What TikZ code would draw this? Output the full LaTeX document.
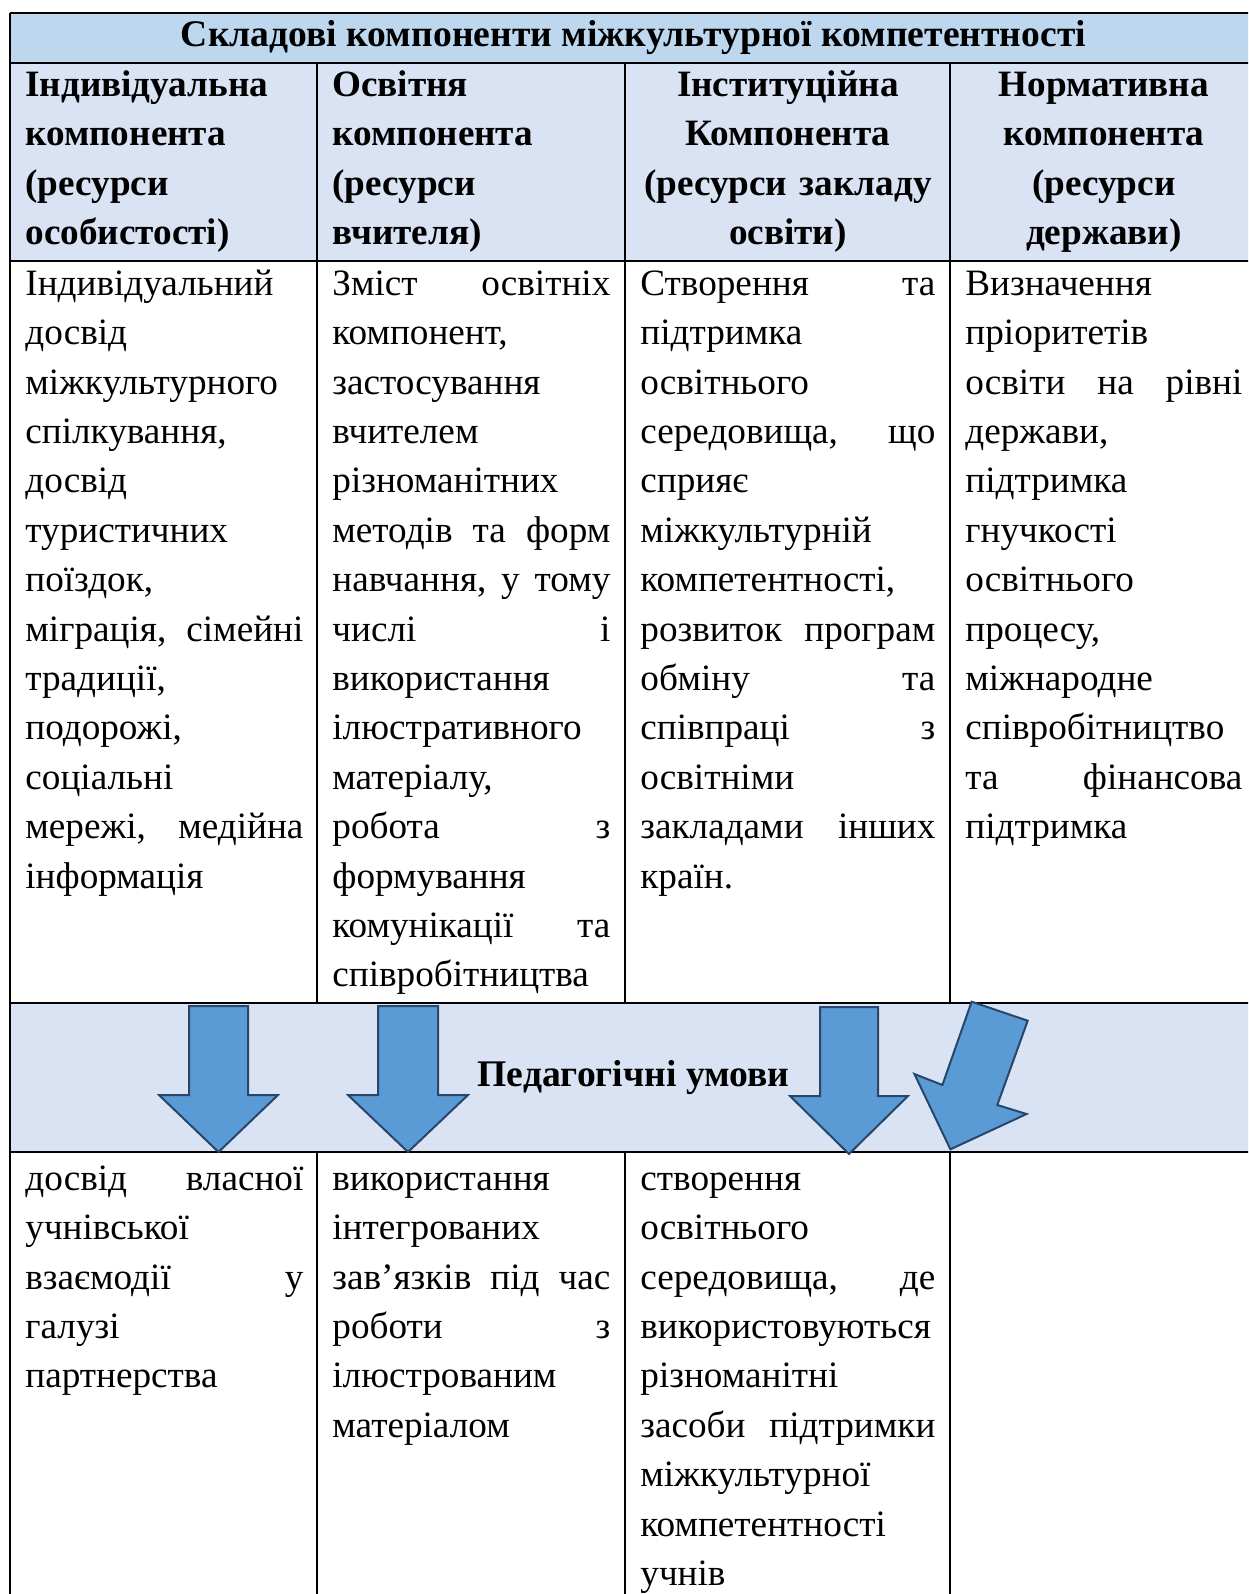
\documentclass[tikz,border=0pt]{standalone}
\usepackage{fontspec}
\setmainfont{Liberation Serif}
\definecolor{titlebg}{HTML}{BDD7EE}
\definecolor{hdrbg}{HTML}{DAE3F3}
\definecolor{arrowfill}{HTML}{5B9BD5}
\definecolor{arrowedge}{HTML}{27466A}
\newcommand\fs{\fontsize{18.6}{24.7}\selectfont}
\newcommand\tfs{\fontsize{18.8}{24.7}\selectfont}
\tikzset{
  grid/.style={line width=1.1pt, draw=black},
  cellL/.style={anchor=north west, inner sep=0pt, align=left, font=\fs, execute at begin node=\strut},
  cellC/.style={anchor=north west, inner sep=0pt, align=center, font=\fs\bfseries, execute at begin node=\strut},
  hdrL/.style={cellL, font=\fs\bfseries},
  bigarrow/.style={fill=arrowfill, draw=arrowedge, line width=1pt, line join=miter},
  banner/.style={anchor=base, inner sep=0pt, font=\tfs\bfseries}
}
\begin{document}
\begin{tikzpicture}[x=0.5pt,y=-0.5pt]
\useasboundingbox (0,0) rectangle (1248,1594);
\clip (0,0) rectangle (1248,1594);
% fills
\fill[titlebg] (10,13) rectangle (1257,63);
\fill[hdrbg] (10,63) rectangle (1257,261);
\fill[hdrbg] (10,1003) rectangle (1257,1152);
% grid
\draw[grid] (10,13) -- (1257,13);
\draw[grid] (10,63) -- (1257,63);
\draw[grid] (10,261) -- (1257,261);
\draw[grid] (10,1003) -- (1257,1003);
\draw[grid] (10,1152) -- (1257,1152);
\draw[grid] (10,13) -- (10,1600);
\draw[grid] (1257,13) -- (1257,1600);
\foreach \cx in {317,625,950} {
  \draw[grid] (\cx,63) -- (\cx,1003);
  \draw[grid] (\cx,1152) -- (\cx,1600);
}
% title
\node[banner] (title) at (633.5,47) {Складові компоненти міжкультурної компетентності};
% header row
\node[hdrL, text width=278*0.5pt] (h1) at (25,61.4) {Індивідуальна\\ компонента\\ (ресурси\\ особистості)};
\node[hdrL, text width=278*0.5pt] (h2) at (332,61.4) {Освітня\\ компонента\\ (ресурси\\ вчителя)};
\node[cellC, text width=295*0.5pt] (h3) at (640,61.4) {Інституційна\\ Компонента\\ (ресурси закладу\\ освіти)};
\node[cellC, text width=277*0.5pt] (h4) at (965,61.4) {Нормативна\\ компонента\\ (ресурси\\ держави)};
% body row 1
\node[cellL, text width=278*0.5pt] (b1) at (25,260.4) {Індивідуальний\\ досвід\\ міжкультурного\\ спілкування,\\ досвід\\ туристичних\\ поїздок,\\ міграція,\hfill сімейні\\ традиції,\\ подорожі,\\ соціальні\\ мережі,\hfill медійна\\ інформація};
\node[cellL, text width=278*0.5pt] (b2) at (332,260.4) {Зміст\hfill освітніх\\ компонент,\\ застосування\\ вчителем\\ різноманітних\\ методів\hfill та\hfill форм\\ навчання,\hfill у\hfill тому\\ числі\hfill і\\ використання\\ ілюстративного\\ матеріалу,\\ робота\hfill з\\ формування\\ комунікації\hfill та\\ співробітництва};
\node[cellL, text width=295*0.5pt] (b3) at (640,260.4) {Створення\hfill та\\ підтримка\\ освітнього\\ середовища,\hfill що\\ сприяє\\ міжкультурній\\ компетентності,\\ розвиток\hfill програм\\ обміну\hfill та\\ співпраці\hfill з\\ освітніми\\ закладами\hfill інших\\ країн.};
\node[cellL, text width=277*0.5pt] (b4) at (965,260.4) {Визначення\\ пріоритетів\\ освіти\hfill на\hfill рівні\\ держави,\\ підтримка\\ гнучкості\\ освітнього\\ процесу,\\ міжнародне\\ співробітництво\\ та\hfill фінансова\\ підтримка};
% pedagogical conditions row
\node[banner] (ped) at (633.5,1086) {Педагогічні умови};
% body row 2
\node[cellL, text width=278*0.5pt] (c1) at (25,1155.4) {досвід\hfill власної\\ учнівської\\ взаємодії\hfill у\\ галузі\\ партнерства};
\node[cellL, text width=278*0.5pt] (c2) at (332,1155.4) {використання\\ інтегрованих\\ зав’язків\hfill під\hfill час\\ роботи\hfill з\\ ілюстрованим\\ матеріалом};
\node[cellL, text width=295*0.5pt] (c3) at (640,1155.4) {створення\\ освітнього\\ середовища,\hfill де\\ використовуються\\ різноманітні\\ засоби\hfill підтримки\\ міжкультурної\\ компетентності\\ учнів};
% arrows
\draw[bigarrow] (189,1006) -- (248,1006) -- (248,1095) -- (278,1095) -- (218.5,1152) -- (159,1095) -- (189,1095) -- cycle;
\draw[bigarrow] (378,1006) -- (438,1006) -- (438,1095) -- (468,1095) -- (408,1152) -- (348,1095) -- (378,1095) -- cycle;
\draw[bigarrow] (820,1007) -- (878,1007) -- (878,1096) -- (908,1096) -- (849,1154) -- (790,1096) -- (820,1096) -- cycle;
\draw[bigarrow] (971.6,1001.7) -- (1027.7,1020.7) -- (997.3,1105) -- (1026.5,1114) -- (950.4,1149.3) -- (914.4,1074) -- (942.4,1085) -- cycle;
\end{tikzpicture}
\end{document}
